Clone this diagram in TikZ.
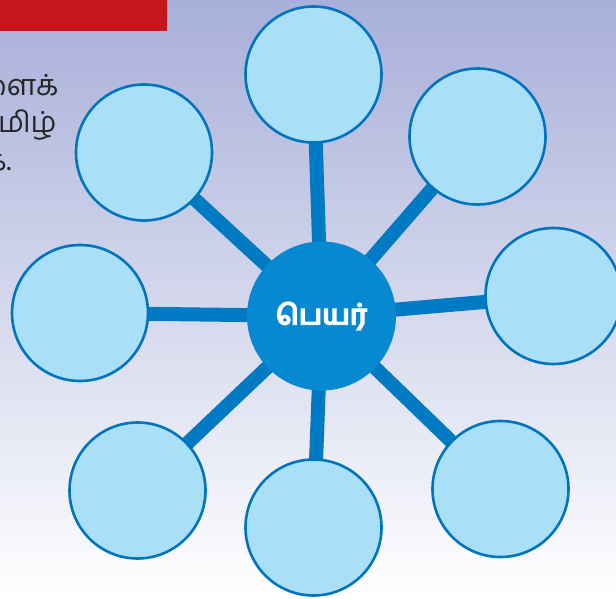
\documentclass[tikz,border=0pt]{standalone}
\usepackage{fontspec}
\newfontfamily\tamil[Script=Tamil]{Hind Madurai}
\usetikzlibrary{positioning}
\pgfdeclarelayer{background}
\pgfsetlayers{background,main}
\definecolor{bandred}{HTML}{C4161C}
\definecolor{leaffill}{HTML}{A9E0F8}
\definecolor{leafline}{HTML}{0074BE}
\definecolor{hubfill}{HTML}{0789D1}
\definecolor{spokeblue}{HTML}{007AC2}
\definecolor{bgtop}{HTML}{A8AFD9}
\newcommand{\heavy}[1]{\special{pdf:literal direct 2 Tr 0.9 w}#1\special{pdf:literal direct 0 Tr}}
\tikzset{
x=1pt, y=-1pt, % one unit is one pixel of the page, y runs downwards
leaf/.style={circle, draw=leafline, line width=2.6pt, fill=leaffill, minimum size=136pt, inner sep=0pt}, % the empty outer circles
hub/.style={circle, fill=hubfill, minimum size=149pt, inner sep=0pt, text=white, font=\tamil\bfseries\fontsize{28}{34}\selectfont}, % the middle circle
spoke/.style={draw=spokeblue, line width=14pt}, % thick lines from the middle
sidetext/.style={anchor=base east, text=black!85, font=\tamil\fontsize{29}{35}\selectfont}, % cut text on the left
}
\begin{document}
\begin{tikzpicture}
                \useasboundingbox (0,0) rectangle (616,599);
                \node[hub] (name) at (321.5,316) {\heavy{பெயர்}};
                \node[leaf] (n1) at (313.5,74.5) {};
                \node[leaf] (n2) at (477.5,136.5) {};
                \node[leaf] (n3) at (553.5,296) {};
                \node[leaf] (n4) at (500.5,489) {};
                \node[leaf] (n5) at (313.5,527.5) {};
                \node[leaf] (n6) at (137.5,490.5) {};
                \node[leaf] (n7) at (80,313) {};
                \node[leaf] (n8) at (144,152.5) {};
                \fill[bandred] (0,0) rectangle (167,31);
                \node[sidetext] (t1) at (62,96) {ளைக்};
                \node[sidetext] (t2) at (60,133) {தமிழ்};
                \node[sidetext] (t3) at (15,171) {க.};
                \begin{pgfonlayer}{background}
                    \shade[top color=bgtop, bottom color=white] (0,0) rectangle (616,599);
                    \foreach \n in {1,...,8}
                        \draw[spoke] (name.center) -- (n\n.center);
                \end{pgfonlayer}
            \end{tikzpicture}
\end{document}
